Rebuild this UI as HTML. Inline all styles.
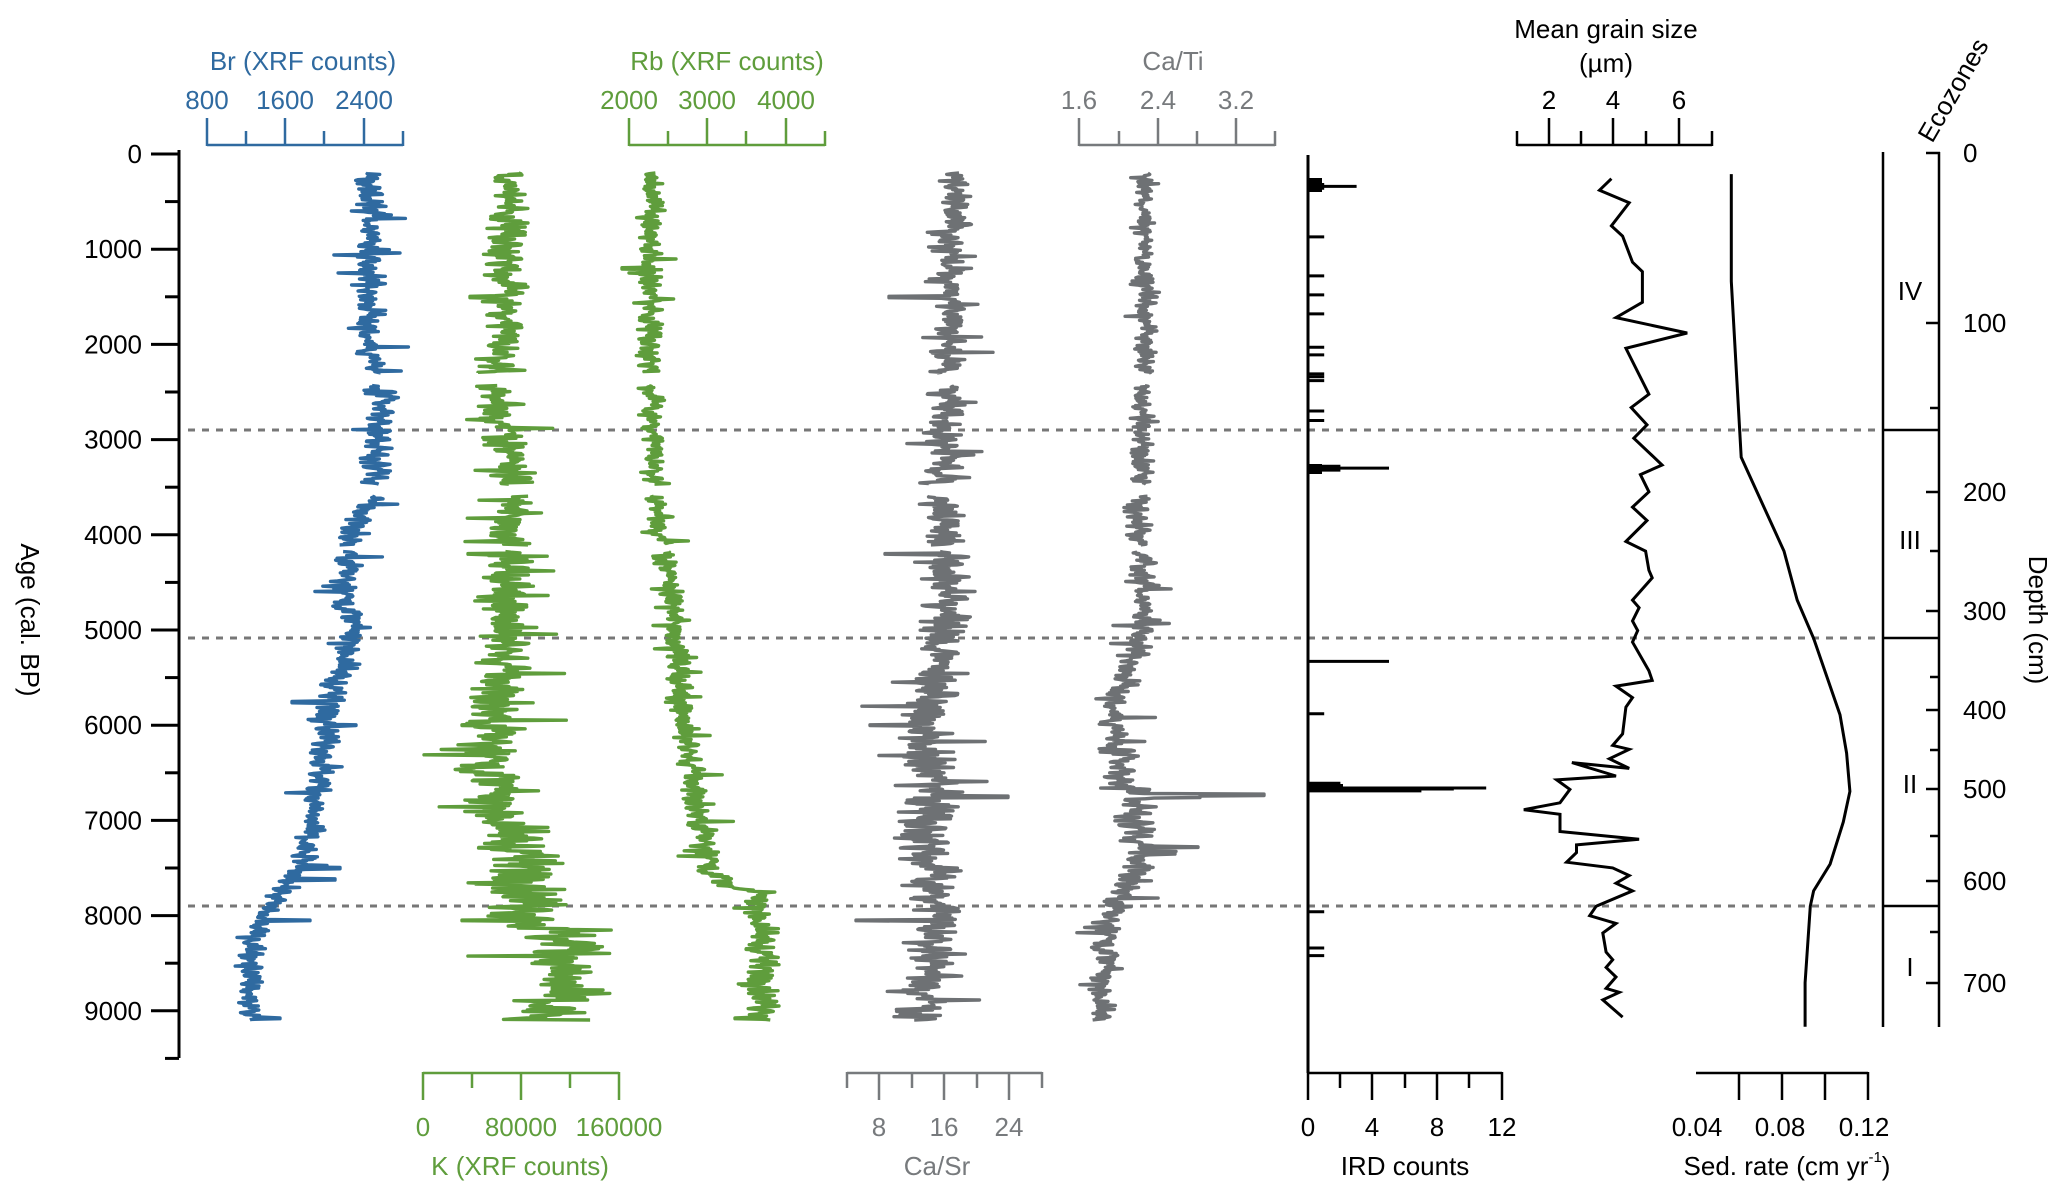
<!DOCTYPE html>
<html><head><meta charset="utf-8">
<style>
html,body{margin:0;padding:0;background:#fff;}
svg{display:block;font-family:"Liberation Sans",Arial,sans-serif;}
text{font-size:26px;}
</style></head>
<body>
<svg id="s" width="2067" height="1199" viewBox="0 0 2067 1199" xmlns="http://www.w3.org/2000/svg">
<g id="static"></g>
<g id="series"></g>
</svg>
<script>
var NS="http://www.w3.org/2000/svg";
var st=document.getElementById("static"), se=document.getElementById("series");
function el(tag,attrs,parent,txt){var e=document.createElementNS(NS,tag);for(var k in attrs)e.setAttribute(k,attrs[k]);if(txt!==undefined)e.textContent=txt;(parent||st).appendChild(e);return e;}
function line(x1,y1,x2,y2,c,w,extra,parent){var a={x1:x1,y1:y1,x2:x2,y2:y2,stroke:c,"stroke-width":w||2.5};if(extra)for(var k in extra)a[k]=extra[k];return el("line",a,parent);}
function txt(x,y,s,c,anchor,extra){var a={x:x,y:y,fill:c||"#000","text-anchor":anchor||"middle","dominant-baseline":"central"};if(extra)for(var k in extra)a[k]=extra[k];return el("text",a,st,s);}
function Y(age){return 154+age*0.0952;}

var BLUE="#2f6aa0",GREEN="#5f9d3c",GRAY="#6e7174",GTXT="#777a7d";

line(179,150,179,1058,"#000",3);
for(var a=0;a<=9500;a+=500){var y=Y(a);var maj=a%1000==0;line(maj?151:165,y,179,y,"#000",3);if(maj)txt(142,y,String(a),"#000","end");}
txt(30,620,"Age (cal. BP)","#000","middle",{transform:"rotate(90 30 620)","font-size":"29"});

[430,638,906].forEach(function(y){line(188,y,1883,y,"#777",3,{"stroke-dasharray":"7,7"});});

function topAxis(x0,x1,majors,minors,labels,c,title,tx){
  line(x0,145,x1,145,c,2.5);
  majors.forEach(function(x,i){line(x,118,x,146,c,2.5);txt(x,100,labels[i],c);});
  minors.forEach(function(x){line(x,131,x,146,c,2.5);});
  if(title)txt(tx,61,title,c);
}
topAxis(207,403,[207,285,364],[246,324,403],["800","1600","2400"],BLUE,"Br (XRF counts)",303);
topAxis(629,825,[629,707,786],[668,746,825],["2000","3000","4000"],GREEN,"Rb (XRF counts)",727);
topAxis(1079,1275,[1079,1158,1236],[1119,1197,1275],["1.6","2.4","3.2"],GTXT,"Ca/Ti",1173);
topAxis(1517,1712,[1549,1613,1679],[1517,1581,1646,1712],["2","4","6"],"#000",null,0);
txt(1606,29,"Mean grain size","#000");
txt(1606,63,"(µm)","#000");

function botAxis(x0,x1,majors,minors,labels,c,title,tx){
  line(x0,1073,x1,1073,c,2.5);
  majors.forEach(function(x,i){line(x,1072,x,1100,c,2.5);if(labels[i]!=="")txt(x,1127,labels[i],c);});
  minors.forEach(function(x){line(x,1072,x,1088,c,2.5);});
  txt(tx,1166,title,c);
}
botAxis(423,619,[423,521,619],[472,570],["0","80000","160000"],GREEN,"K (XRF counts)",520);
botAxis(847,1042,[879,944,1009],[847,912,977,1042],["8","16","24"],GTXT,"Ca/Sr",937);
botAxis(1308,1502,[1308,1372,1437,1502],[1340,1405,1469],["0","4","8","12"],"#000","IRD counts",1405);
line(1696,1073,1868,1073,"#000",2.5);
[1739,1782,1825,1868].forEach(function(x){line(x,1072,x,1100,"#000",2.5);});
txt(1697,1127,"0.04");txt(1780,1127,"0.08");txt(1864,1127,"0.12");
var t=txt(1787,1166,"Sed. rate (cm yr","#000");
el("tspan",{"font-size":"15",dy:"-9"},t,"-1");el("tspan",{dy:"9"},t,")");

line(1308,155,1308,1073,"#000",3);

line(1883,152,1883,1027,"#000",2.5);
[430,638,906].forEach(function(y){line(1883,y,1939,y,"#000",2.5);});
line(1939,152,1939,1027,"#000",2.5);
var dm=[[0,153],[100,323],[200,492],[300,611],[400,710],[500,789],[600,881],[700,983]];
dm.forEach(function(d){line(1926,d[1],1940,d[1],"#000",2.5);txt(1963,d[1],String(d[0]),"#000","start");});
[408,551,677,750,836,932].forEach(function(y){line(1930,y,1940,y,"#000",2.5);});
txt(1910,291,"IV");txt(1910,540,"III");txt(1910,784,"II");txt(1910,967,"I");
txt(1953,90,"Ecozones","#000","middle",{transform:"rotate(-60 1953 90)","font-size":"28"});
txt(2038,620,"Depth (cm)","#000","middle",{transform:"rotate(90 2038 620)","font-size":"29"});

var seed=12345;function rnd(){seed=(seed*1103515245+12345)%2147483648;return seed/2147483648;}
function gauss(){return (rnd()+rnd()+rnd()+rnd()-2)*0.87;}
function interp(pts,a){if(a<=pts[0][0])return pts[0][1];for(var i=1;i<pts.length;i++){if(a<=pts[i][0]){var p=pts[i-1],q=pts[i];return p[1]+(q[1]-p[1])*(a-p[0])/(q[0]-p[0]);}}return pts[pts.length-1][1];}
var gaps=[[2300,2430],[3470,3590],[4110,4170]];
function inGap(a){for(var i=0;i<gaps.length;i++)if(a>gaps[i][0]&&a<gaps[i][1])return true;return false;}
function series(center,amp,spikes,color,s){
  seed=s;var d="",started=false,ar=0;
  for(var a=200;a<=9100;a+=7){
    if(inGap(a)){started=false;continue;}
    ar=0.35*ar+0.9*gauss();
    var A=interp(amp,a)*2;
    var v=interp(center,a)+ar*A;
    if(rnd()<0.07)v+=gauss()*A*1.8;
    spikes.forEach(function(sp){if(Math.abs(a-sp[0])<10)v=sp[1];});
    var y=Y(a);
    d+=(started?"L":"M")+v.toFixed(1)+","+y.toFixed(1);started=true;
  }
  el("path",{d:d,fill:"none",stroke:color,"stroke-width":3.4,"stroke-linejoin":"round"},se);
}
series([[200,372],[2000,370],[2500,380],[3500,375],[4000,352],[4600,345],[5100,355],[5700,330],[6000,330],[7000,312],[7500,300],[8000,262],[8200,255],[9100,248]],
  [[0,7],[5000,7],[9100,6]],[[5760,292],[6000,356],[7500,340],[8050,310],[9080,280],[7620,335]],BLUE,101);
series([[200,510],[1500,505],[2300,500],[2500,495],[3500,512],[4500,510],[5200,505],[6000,495],[6500,490],[7000,505],[7600,530],[8000,530],[8300,570],[8800,560],[9100,540]],
  [[0,8],[4000,12],[6000,15],[8000,20],[9100,22]],[[1500,470],[2300,478],[4200,468],[6000,462],[8050,462]],GREEN,202);
series([[200,652],[2000,650],[3000,652],[4000,660],[5000,676],[6000,684],[7000,700],[7500,712],[7700,725],[7760,760],[9100,765]],
  [[0,5],[5000,6],[7000,7],[9100,8]],[[1200,622],[9080,735]],GREEN,303);
series([[200,955],[2000,950],[3000,945],[4000,945],[5000,945],[6000,925],[6700,935],[7000,925],[8000,935],[8500,935],[9100,915]],
  [[0,7],[4000,10],[6000,12],[8000,13],[9100,12]],[[1500,889],[4200,885],[6750,1008],[8050,856],[6000,870]],GRAY,404);
series([[200,1146],[2000,1145],[3000,1142],[4000,1140],[5000,1145],[5800,1115],[6600,1118],[6700,1140],[7000,1135],[7500,1140],[8000,1110],[9100,1100]],
  [[0,4],[5000,6],[7000,9],[9100,6]],[[6730,1264],[6750,1200],[7280,1198],[7350,1175]],GRAY,505);

var ird=[[340,3],[320,1],[360,1],[870,1],[1280,1],[1480,1],[1680,1],[2030,1],[2110,1],[2310,1],[2340,1],[2380,1],[2700,1],[2800,1],[3300,5],[3280,2],[3320,2],[5330,5],[5880,1],[6610,2],[6660,11],[6670,9],[6690,7],[7960,1],[8340,1],[8420,1]];
ird.forEach(function(r){var y=Y(r[0]);line(1308,y,1308+r[1]*16.2,y,"#000",3,{},se);});
el("rect",{x:1308,y:178,width:14,height:14,fill:"#000"},se);
el("rect",{x:1308,y:464,width:14,height:10,fill:"#000"},se);
el("rect",{x:1308,y:784,width:35,height:6,fill:"#000"},se);

function conv(pts,yoff){return pts.map(function(p){return [(p[0]/1.518+1033).toFixed(1),(p[1]/2.613+yoff).toFixed(1)];});}
var g1=conv([[878,467],[860,497],[905,530],[878,590],[895,617],[910,685],[925,710],[925,790],[885,830],[993,870],[900,910],[935,1030],[908,1065],[932,1110],[912,1145],[955,1215],[922,1240],[935,1285],[910,1325],[932,1360],[900,1415],[930,1440],[935,1490],[940,1510],[910,1568]],0);
var g2=conv([[920,20],[910,55],[918,80],[910,110],[935,185],[940,210],[885,225],[910,255],[900,280],[895,350],[880,380],[905,390],[875,415],[905,440],[818,425],[885,460],[795,470],[815,495],[800,530],[745,548],[800,560],[800,605],[920,625],[825,640],[825,660],[810,685],[880,700],[905,720],[885,740],[910,760],[855,800],[845,825],[885,845],[865,870],[870,920],[880,940],[870,960],[885,985],[870,1015],[890,1025],[865,1045],[895,1090]],600);
el("polyline",{points:g1.concat(g2).map(function(p){return p.join(",");}).join(" "),fill:"none",stroke:"#000","stroke-width":3},se);
var s1=conv([[1060,455],[1060,735],[1075,1195],[1140,1440],[1160,1568]],0);
var s2=conv([[1185,100],[1205,200],[1225,300],[1235,400],[1240,500],[1230,580],[1210,690],[1185,760],[1180,800],[1172,1000],[1172,1115]],600);
el("polyline",{points:s1.concat(s2).map(function(p){return p.join(",");}).join(" "),fill:"none",stroke:"#000","stroke-width":3},se);
</script>
</body></html>
